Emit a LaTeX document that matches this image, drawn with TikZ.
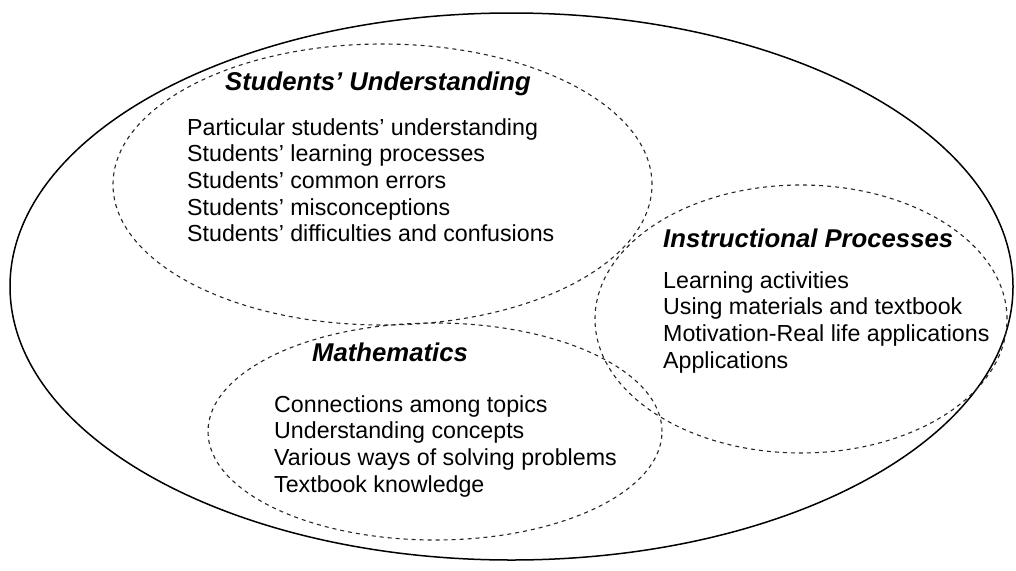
\documentclass[tikz,border=0pt]{standalone}
\usepackage{fontspec}
\setmainfont{Liberation Sans}
\usetikzlibrary{shapes.geometric}
\tikzset{
  outerring/.style={draw=black, line width=1.5pt, ellipse, inner sep=0pt},
  area/.style={draw=black!85, line width=1.1pt, dash pattern=on 4pt off 4pt,
    ellipse, inner sep=0pt},
  heading/.style={anchor=base west, inner sep=0pt,
    font=\fontsize{25.7}{30}\selectfont\bfseries\itshape},
  entry/.style={anchor=base west, inner sep=0pt,
    font=\fontsize{23.2}{26.7}\selectfont}
}
\begin{document}
\begin{tikzpicture}[x=1pt, y=-1pt]
\useasboundingbox (0,0) rectangle (1016,570);

% enclosing ring
\node[outerring, minimum width=1003pt, minimum height=547pt] (whole) at (511.5,286.5) {};

% the three overlapping areas
\node[area, minimum width=539pt, minimum height=281pt] (students) at (382.5,184.5) {};
\node[area, minimum width=412pt, minimum height=268pt] (instruction) at (801,319) {};
\node[area, minimum width=454pt, minimum height=217pt] (maths) at (435,431.5) {};

% Students' Understanding
\node[heading] (stitle) at (225,90) {Students' Understanding};
\node[entry] (s1) at (187,135) {Particular students' understanding};
\node[entry] (s2) at (187,161.7) {Students' learning processes};
\node[entry] (s3) at (187,188.4) {Students' common errors};
\node[entry] (s4) at (187,215.1) {Students' misconceptions};
\node[entry] (s5) at (187,241.8) {Students' difficulties and confusions};

% Instructional Processes
\node[heading] (ititle) at (663,247) {Instructional Processes};
\node[entry] (i1) at (663,288) {Learning activities};
\node[entry] (i2) at (663,314.7) {Using materials and textbook};
\node[entry] (i3) at (663,341.4) {Motivation-Real life applications};
\node[entry] (i4) at (663,368.1) {Applications};

% Mathematics
\node[heading] (mtitle) at (312,361) {Mathematics};
\node[entry] (m1) at (274,412) {Connections among topics};
\node[entry] (m2) at (274,438.7) {Understanding concepts};
\node[entry] (m3) at (274,465.4) {Various ways of solving problems};
\node[entry] (m4) at (274,492.1) {Textbook knowledge};
\end{tikzpicture}
\end{document}
